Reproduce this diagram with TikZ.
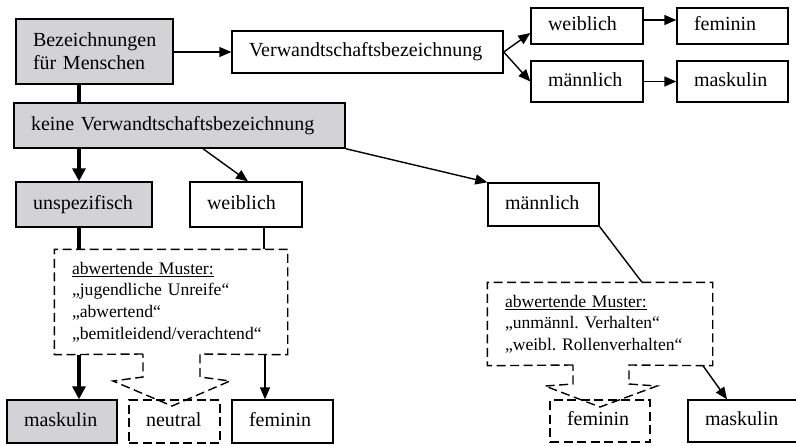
\documentclass[tikz,border=0pt]{standalone}
\usepackage{fontspec}
\setmainfont{Liberation Serif}
\usetikzlibrary{arrows.meta}
\definecolor{boxgray}{RGB}{211,211,213}
\frenchspacing
\newcommand\fs{\fontsize{20}{23}\selectfont\frenchspacing\hyphenpenalty=10000 \exhyphenpenalty=10000 }
\newcommand\fsm{\fontsize{17.6}{21.6}\selectfont\frenchspacing\hyphenpenalty=10000 \exhyphenpenalty=10000 }
\begin{document}
\begin{tikzpicture}[x=1pt,y=-1pt,
  bx/.style={draw, line width=1.4pt, inner xsep=17pt, inner ysep=0pt, align=left, font=\fs},
  one/.style={text height=13.5pt, text depth=4.5pt},
  gr/.style={fill=boxgray},
  dsh/.style={dash pattern=on 9pt off 4.5pt},
  dl/.style={line width=1.4pt, dsh},
  ar/.style={line width=1.4pt, -{Triangle[length=12pt,width=10pt]}},
  ln/.style={line width=1.4pt},
  tk/.style={line width=4pt},
  tka/.style={line width=4pt, -{Triangle[length=13pt,width=13pt]}}
]
\fill[white] (0,0) rectangle (796,445);
\useasboundingbox (0,0) rectangle (796,445);
\coordinate (spine) at (79,0);

% top row
\node[bx,gr,text width=123pt,minimum height=65pt] (bez) at (94.5,51.5) {Bezeichnungen\\für Menschen};
\node[bx,one,text width=237pt,minimum height=42pt] (verw) at (367.5,52) {Verwandtschaftsbezeichnung};
\node[bx,one,text width=78pt,minimum height=36pt] (wT) at (587,26) {weiblich};
\node[bx,one,text width=77pt,minimum height=36pt] (fT) at (732.5,26) {feminin};
\node[bx,one,text width=78pt,minimum height=41pt] (mT) at (587,81.5) {männlich};
\node[bx,one,text width=77pt,minimum height=41pt] (kT) at (732.5,81.5) {maskulin};

% second level
\node[bx,gr,one,text width=297pt,minimum height=45pt] (keine) at (179.5,125.5) {keine Verwandtschaftsbezeichnung};
\node[bx,gr,one,text width=102pt,minimum height=45pt] (unsp) at (84,204.5) {unspezifisch};
\node[bx,one,text width=78pt,minimum height=45pt] (wM) at (246,204.5) {weiblich};
\node[bx,one,text width=77pt,minimum height=43pt] (mM) at (543.5,204.5) {männlich};

% pattern boxes
\node[bx,draw=none,font=\fsm,text width=198pt,minimum height=104pt] (dashL) at (171,302)
  {\underline{abwertende Muster:}\\„jugendliche Unreife“\\„abwertend“\\„bemitleidend/verachtend“};
\node[bx,draw=none,font=\fsm,text width=190pt,minimum height=82pt] (dashR) at (600,324)
  {\underline{abwertende Muster:}\\„unmännl. Verhalten“\\„weibl. Rollenverhalten“};

% bottom row
\node[bx,gr,one,text width=76pt,minimum height=43pt] (maskL) at (62,421.5) {maskulin};
\node[bx,dsh,one,text width=57pt,minimum height=43pt] (neutral) at (174.5,421.5) {neutral};
\node[bx,one,text width=67pt,minimum height=43pt] (femL) at (282.5,421.5) {feminin};
\node[bx,dsh,one,text width=66pt,minimum height=42pt] (femR) at (600,421) {feminin};
\node[bx,one,text width=76pt,minimum height=42pt] (maskR) at (743,421) {maskulin};

% dashed outlines with block arrows
\draw[dl] (143,354) -- (dashL.south west) -- (dashL.north west) -- (dashL.north east)
  -- (dashL.south east) -- (200,354) -- (200,377) -- (230,381) -- (172,406)
  -- (113,381) -- (143,377) -- cycle;
\draw[dl] (573,365) -- (dashR.south west) -- (dashR.north west) -- (dashR.north east)
  -- (dashR.south east) -- (629,365) -- (629,384) -- (657,386) -- (600,407)
  -- (545,386) -- (573,384) -- cycle;

% connectors
\draw[ar] (bez.east |- verw.west) -- (verw.west);
\draw[ar] (verw.east) -- ([yshift=-7pt]wT.west);
\draw[ar] (verw.east) -- (mT.west);
\draw[ar] ([yshift=6pt]wT.east) -- ([yshift=6pt]fT.west);
\draw[ar] (mT.east) -- (kT.west);

\draw[tk] (bez.south -| spine) -- (keine.north -| spine);
\draw[tka] (keine.south -| spine) -- (unsp.north -| spine);
\draw[ar] ([xshift=23.5pt]keine.south) -- ([xshift=2pt]wM.north);
\draw[ar] (keine.south east) -- (mM.north west);

\draw[tk] (unsp.south -| spine) -- (dashL.north -| spine);
\draw[ln] ([xshift=18pt]wM.south) -- ([xshift=93pt]dashL.north);
\draw[tka] (dashL.south -| spine) -- (maskL.north -| spine);
\draw[ar] ([xshift=94pt]dashL.south) -- ([xshift=-17.5pt]femL.north);

\draw[ln] (mM.south east) -- ([xshift=42pt]dashR.north);
\draw[ar] ([xshift=103pt]dashR.south) -- ([xshift=-16pt]maskR.north);
\end{tikzpicture}
\end{document}
